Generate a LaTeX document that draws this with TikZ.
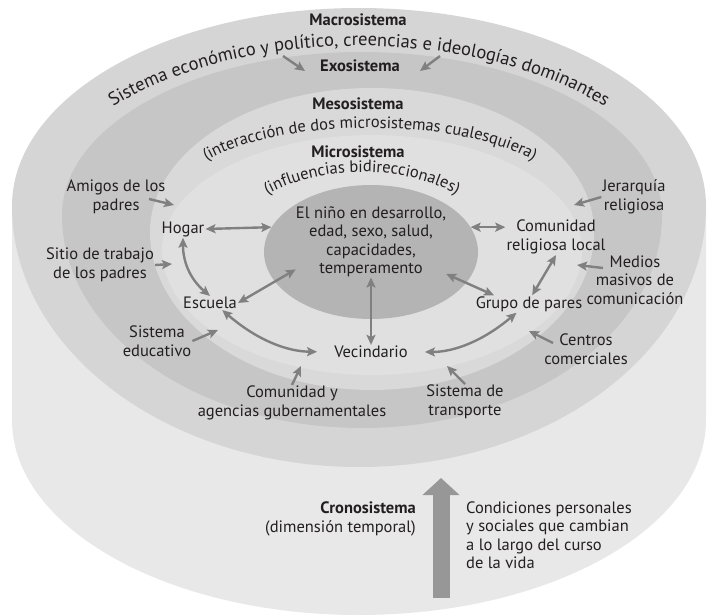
\documentclass[tikz,border=0pt]{standalone}
\usepackage{fontspec}
\setmainfont{PT Sans}
\usepackage{tikz}
\usetikzlibrary{arrows}
\usetikzlibrary{arrows.meta}
\usetikzlibrary{shapes.geometric}
\usetikzlibrary{decorations.text}
\definecolor{sidegray}{HTML}{E8E8E8}
\definecolor{macrogray}{HTML}{D5D5D5}
\definecolor{exogray}{HTML}{C6C6C6}
\definecolor{mesogray}{HTML}{D9D9D9}
\definecolor{microgray}{HTML}{E0E0E0}
\definecolor{ninogray}{HTML}{B4B4B4}
\definecolor{arrowgray}{HTML}{808080}
\definecolor{chronogray}{HTML}{979797}
\definecolor{inkgray}{HTML}{231F20}
\newcommand{\lblfont}{\fontsize{16.5}{18.5}\selectfont}
\newcommand{\arcfont}{\fontsize{18.5}{20}\selectfont}
\tikzset{every node/.style={font=\lblfont, text=inkgray, inner sep=1pt},
      sysname/.style={font=\lblfont\bfseries},
      multi/.style={align=center},
      twoway/.style={{Stealth[length=10pt,width=9pt,inset=2pt]}-{Stealth[length=10pt,width=9pt,inset=2pt]},
      draw=arrowgray, line width=2.4pt},
      oneway/.style={-{Stealth[length=10pt,width=9pt,inset=2pt]}, draw=arrowgray, line width=2.4pt},
      bigarrow/.style={draw=chronogray, line width=17pt,
      -{Triangle[width=36pt,length=17pt]}},
      curvedtext/.style={decorate, decoration={text along path,
      text align=center, text color=inkgray, text={#1}}}}

\begin{document}
\begin{tikzpicture}[x=1pt,y=-1pt]
          \fill[white] (0,0) rectangle (716,616);
          \useasboundingbox (0,0) rectangle (716,616);

          % cylinder and rings
          \fill[sidegray] (12,206) -- (12,420) arc[start angle=180,end angle=360,x radius=347pt,y radius=195pt] -- (706,206) -- cycle;
          \fill[macrogray] (12,206) arc[start angle=180,end angle=0,x radius=347pt,y radius=198pt]
                arc[start angle=0,end angle=-180,x radius=347pt,y radius=261pt] -- cycle;
          \fill[exogray] (62,215) arc[start angle=180,end angle=0,x radius=300pt,y radius=163pt]
                arc[start angle=0,end angle=-180,x radius=300pt,y radius=213pt] -- cycle;
          \fill[mesogray] (150,232) arc[start angle=180,end angle=0,x radius=222pt,y radius=144pt]
                arc[start angle=0,end angle=-180,x radius=222pt,y radius=158pt] -- cycle;
          \fill[microgray] (162,250) arc[start angle=180,end angle=0,x radius=210pt,y radius=115pt]
                arc[start angle=0,end angle=-180,x radius=210pt,y radius=125pt] -- cycle;

          \node[ellipse, fill=ninogray, minimum width=214pt, minimum height=134pt, inner sep=0pt] (nino) at (371,252) {};
          \node[multi, inner sep=0pt] (ninotext) at (371,242) {El niño en desarrollo,\\edad, sexo, salud,\\capacidades,\\temperamento};

          % curved labels
          \path[curvedtext={|\arcfont|Sistema económico y político, creencias e ideologías dominantes}]
                (359,215) ++(155:320pt and 169pt) arc[start angle=155,end angle=25,x radius=320pt,y radius=169pt];
          \path[curvedtext={|\lblfont|(interacción de dos microsistemas cualesquiera)}]
                (370,195) ++(165:190pt and 67pt) arc[start angle=165,end angle=15,x radius=190pt,y radius=67pt];
          \path[curvedtext={|\lblfont|(influencias bidireccionales)}]
                (362,260) ++(140:142pt and 88pt) arc[start angle=140,end angle=40,x radius=142pt,y radius=88pt];

          \node[sysname] (macro) at (358,20) {Macrosistema};
          \node[sysname] (exo) at (360,66) {Exosistema};
          \node[sysname] (meso) at (358,104) {Mesosistema};
          \node[sysname] (micro) at (358,152) {Microsistema};

          \node (hogar) at (183,229) {Hogar};
          \node (escuela) at (210,303) {Escuela};
          \node (vecindario) at (371,352) {Vecindario};
          \node (grupo) at (529,304) {Grupo de pares};
          \node[multi] (comunidad) at (556,237) {Comunidad\\religiosa local};

          \node[multi] (amigos) at (116,197) {Amigos de los\\padres};
          \node[multi] (sitio) at (100,265) {Sitio de trabajo\\de los padres};
          \node[multi] (educativo) at (157,341) {Sistema\\educativo};
          \node[multi] (gubernamental) at (292,403) {Comunidad y\\agencias gubernamentales};
          \node[multi] (transporte) at (465,402) {Sistema de\\transporte};
          \node[multi] (centros) at (586,349) {Centros\\comerciales};
          \node[multi] (medios) at (635,280) {Medios\\masivos de\\comunicación};
          \node[multi] (jerarquia) at (634,197) {Jerarquía\\religiosa};

          \node[anchor=east, align=right] (crono) at (417,519) {\textbf{Cronosistema}\\(dimensión temporal)};
          \node[anchor=west, align=left] (condiciones) at (465,535) {Condiciones personales\\y sociales que cambian\\a lo largo del curso\\de la vida};

          % free ends of the one-way arrows
          \coordinate (macroleft) at (283,56);
          \coordinate (exoleft) at (305,71);
          \coordinate (macroright) at (440,56);
          \coordinate (exoright) at (420,71);
          \coordinate (amigosfrom) at (149,199);
          \coordinate (amigosto) at (174,205);
          \coordinate (sitioto) at (172,264);
          \coordinate (educativoto) at (218,330);
          \coordinate (gubernamentalto) at (301,366);
          \coordinate (transporteto) at (447,366);
          \coordinate (centrosfrom) at (553,343);
          \coordinate (centrosto) at (529,331);
          \coordinate (mediosfrom) at (603,268);
          \coordinate (mediosto) at (577,265);
          \coordinate (jerarquiato) at (574,205);
          \coordinate (cronobase) at (441,598);
          \coordinate (cronotip) at (441,478);

          \draw[twoway] (hogar.east) -- (nino.166);
          \draw[twoway] (nino.14) -- (nino.14 -| comunidad.west);
          \draw[twoway] (hogar.south) to[bend right=25] (escuela.north);
          \draw[twoway] (escuela.east) -- (ninotext.200);
          \draw[twoway, shorten >=16pt] (escuela.-30) to[bend right=20] (vecindario.west);
          \draw[twoway] (ninotext.south) -- (vecindario.north);
          \draw[twoway] (ninotext.-23) -- (grupo.166);
          \draw[twoway, shorten <=16pt] (vecindario.east) to[bend right=20] (grupo.-145);
          \draw[twoway] (grupo.70) -- (comunidad.south);

          \draw[oneway] (macroleft) -- (exoleft);
          \draw[oneway] (macroright) -- (exoright);
          \draw[oneway] (amigosfrom) -- (amigosto);
          \draw[oneway] (sitio.east) -- (sitioto);
          \draw[oneway] (educativo.east) -- (educativoto);
          \draw[oneway] (gubernamental.north) -- (gubernamentalto);
          \draw[oneway] (transporte.north) -- (transporteto);
          \draw[oneway] (centrosfrom) -- (centrosto);
          \draw[oneway] (mediosfrom) -- (mediosto);
          \draw[oneway] (jerarquia.west) -- (jerarquiato);

          \draw[bigarrow] (cronobase) -- (cronotip);
\end{tikzpicture}
\end{document}
